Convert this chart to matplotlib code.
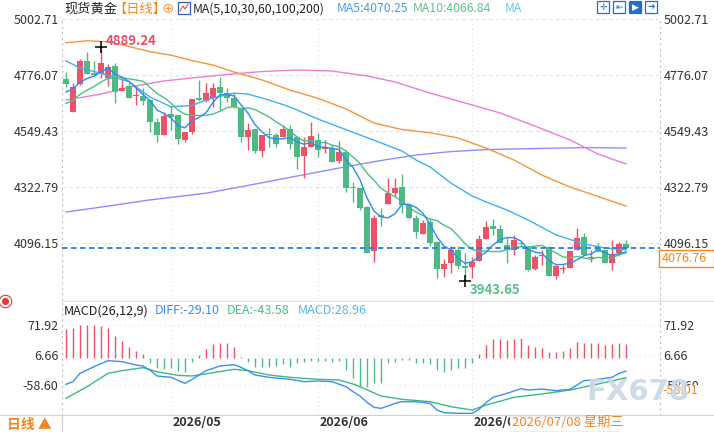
import matplotlib
matplotlib.use("Agg")
import matplotlib.pyplot as plt
import numpy as np
import pandas as pd
from matplotlib.patches import Rectangle
from matplotlib.lines import Line2D

plt.rcParams['font.family'] = ['Noto Sans CJK SC', 'DejaVu Sans']

# daily candles
opens = [4759.6, 4627.7, 4738.2, 4832.2, 4783.8, 4781.0, 4764.8, 4813.2, 4712.4, 4731.4,
         4691.0, 4691.0, 4674.9, 4586.2, 4535.0, 4618.4, 4613.2, 4513.6, 4547.1, 4683.0,
         4669.7, 4681.8, 4728.5, 4701.9, 4681.8, 4643.8, 4526.9, 4557.9, 4470.4, 4537.8,
         4533.7, 4526.9, 4557.9, 4526.9, 4450.3, 4486.6, 4513.6, 4476.1, 4480.1, 4430.1,
         4466.4, 4322.8, 4318.8, 4244.6, 4067.1, 4211.1, 4255.5, 4301.0, 4325.2, 4251.4,
         4197.8, 4134.5, 4184.1, 4103.4, 3994.5, 4018.7, 4069.9, 4005.4, 4002.6, 4026.8,
         4114.3, 4166.7, 4153.4, 4090.1, 4069.9, 4100.0, 4083.3, 3993.3, 4045.8, 4083.3,
         3965.1, 3993.3, 3997.4, 4069.9, 4121.2, 4036.5, 4083.3, 4069.9, 4018.7, 4056.6,
         4094.1]
highs = [4787.8, 4743.5, 4840.3, 4867.3, 4833.4, 4889.24, 4820.1, 4822.9, 4762.4, 4744.7,
         4728.5, 4723.3, 4676.0, 4602.3, 4625.3, 4651.9, 4615.0, 4546.0, 4680.0, 4755.6,
         4744.7, 4742.3, 4766.4, 4722.1, 4701.9, 4645.0, 4580.9, 4559.0, 4535.0, 4560.8,
         4540.6, 4574.1, 4574.1, 4528.0, 4526.9, 4587.4, 4540.6, 4513.6, 4493.4, 4509.5,
         4473.2, 4343.0, 4320.0, 4246.0, 4211.1, 4238.1, 4359.1, 4359.1, 4376.5, 4253.0,
         4211.1, 4190.9, 4197.8, 4105.0, 4032.4, 4086.1, 4086.1, 4056.6, 4042.9, 4130.4,
         4186.9, 4193.8, 4170.8, 4123.6, 4130.4, 4108.0, 4085.0, 4049.8, 4069.9, 4085.0,
         4007.0, 4009.5, 4067.0, 4157.5, 4137.3, 4069.9, 4097.0, 4071.0, 4110.3, 4103.4,
         4110.3]
lows = [4728.5, 4625.0, 4736.0, 4779.0, 4771.7, 4763.6, 4732.6, 4664.0, 4710.0, 4682.0,
        4653.5, 4654.7, 4547.1, 4504.3, 4533.0, 4553.9, 4496.2, 4506.7, 4537.8, 4673.0,
        4668.0, 4645.5, 4634.6, 4668.0, 4644.0, 4506.7, 4473.2, 4459.9, 4446.2, 4486.6,
        4486.6, 4525.0, 4477.3, 4395.4, 4361.5, 4485.0, 4443.8, 4459.9, 4424.0, 4419.6,
        4305.1, 4262.3, 4231.3, 4057.0, 4020.3, 4166.7, 4254.0, 4284.9, 4218.0, 4196.0,
        4117.1, 4133.0, 4086.1, 3955.8, 3959.8, 3978.4, 3992.1, 3943.65, 3955.8, 4025.0,
        4113.0, 4130.4, 4097.0, 4016.3, 4049.8, 4088.0, 3986.5, 3991.0, 4009.5, 3963.0,
        3953.0, 3977.2, 3996.0, 4068.0, 4048.0, 4021.6, 4061.9, 4017.0, 3989.3, 4045.8,
        4075.0]
closes = [4740.6, 4727.3, 4832.2, 4781.0, 4775.7, 4824.1, 4806.8, 4708.4, 4724.5, 4684.2,
          4696.3, 4672.1, 4587.4, 4535.0, 4610.4, 4607.6, 4516.4, 4544.6, 4678.9, 4674.9,
          4704.3, 4723.3, 4701.9, 4681.8, 4645.5, 4526.9, 4553.9, 4470.4, 4533.7, 4533.7,
          4497.4, 4556.7, 4497.4, 4446.2, 4486.6, 4529.7, 4473.2, 4484.1, 4426.1, 4466.4,
          4318.8, 4318.8, 4238.1, 4059.1, 4197.8, 4204.3, 4298.6, 4318.8, 4251.4, 4197.8,
          4143.8, 4177.6, 4099.4, 3992.1, 4013.5, 4069.9, 4006.6, 3998.6, 4022.8, 4114.3,
          4161.5, 4155.9, 4099.4, 4069.9, 4110.3, 4094.0, 3989.3, 4040.5, 4049.8, 3965.1,
          4005.4, 3997.4, 4065.9, 4117.1, 4049.8, 4042.9, 4067.1, 4018.7, 4053.8, 4094.1,
          4076.76]
# closes before the visible window (estimated from where MA5/MA10 start)
prior_closes = [4590, 4600, 4615, 4625, 4640, 4670, 4690, 4712, 4727]

# long moving averages, read as points (candle index, price)
ma30_idx = [0, 2, 5, 9, 12, 15, 18, 20, 21, 24, 26, 29, 32, 36, 39, 42, 45, 48, 50, 52,
            55, 58, 60, 63, 66, 70, 74, 77, 80]
ma30_val = [4833, 4804, 4783, 4749, 4687, 4648, 4653, 4675, 4683, 4703, 4699, 4675, 4647,
            4598, 4566, 4534, 4502, 4469, 4433, 4405, 4340, 4288, 4264, 4231, 4191, 4131,
            4094, 4078, 4070]
ma60_idx = [0, 3, 6, 9, 12, 15, 18, 21, 24, 28, 32, 36, 40, 44, 48, 52, 56, 60, 64, 68,
            72, 76, 80]
ma60_val = [4906, 4914, 4910, 4891, 4870, 4856, 4834, 4816, 4788, 4756, 4715, 4682, 4639,
            4582, 4556, 4543, 4522, 4481, 4433, 4372, 4324, 4286, 4247]
ma100_idx = [0, 5, 9, 14, 18, 23, 28, 33, 38, 43, 47, 52, 57, 62, 67, 72, 76, 80]
ma100_val = [4675, 4699, 4727, 4752, 4764, 4778, 4790, 4796, 4792, 4772, 4748, 4703, 4663,
             4623, 4570, 4514, 4457, 4417]
ma200_idx = [0, 6, 12, 20, 25, 30, 35, 40, 45, 50, 55, 60, 65, 70, 75, 80]
ma200_val = [4223, 4247, 4272, 4299, 4325, 4352, 4379, 4406, 4431, 4453, 4467, 4475, 4478,
             4481, 4483, 4481]

# MACD panel
macd_hist = [61.7, 65.3, 71.92, 71.9, 70.4, 68.2, 65.3, 47.2, 36.3, 24.0, 14.6, 8.1,
             -10.8, -23.1, -23.9, -23.1, -28.2, -30.4, -8.6,
             5.9, 18.2, 29.1, 32.7, 31.3, 24.0, 2.3,
             -8.6, -20.9, -20.9, -20.9, -18.0, -13.7, -19.5, -10.8, -8.6, -6.4, -6.4, -6.4, -8.6, -6.4,
             -26.8, -45.0, -63.0, -63.0, -54.3, -54.3,
             -10.8, -8.6, -5.0, -5.0, -10.8, -12.3, -13.7, -26.8, -30.4, -26.8, -23.1, -21.7, -12.3,
             8.1, 27.6, 40.7, 39.9, 38.5, 39.9, 42.8, 27.6, 24.0, 21.8, 13.1, 13.1, 14.6, 21.1,
             34.2, 32.7, 32.7, 32.7, 27.6, 29.8, 32.7, 28.96]
diff_idx = [0, 1, 2, 3, 4, 6, 8, 10, 11, 12, 13, 15, 17, 18, 20, 22, 24, 25, 26, 27, 29, 32,
            34, 36, 38, 40, 41, 42, 43, 44, 45, 46, 47, 48, 50, 52, 53, 54, 56, 58, 59, 60,
            61, 63, 65, 66, 68, 70, 72, 73, 74, 76, 78, 79, 80]
diff_val = [-57.9, -52.1, -34.0, -26.8, -19.5, -6.4, -8.6, -15.9, -18.1, -26.8, -39.8, -42.7,
            -55.8, -47.1, -28.2, -18.1, -15.1, -21.0, -28.2, -37.6, -42.7, -47.0, -52.1,
            -50.7, -52.1, -63.0, -73.9, -83.3, -97.0, -108.0, -110.1, -105.0, -99.3, -95.6,
            -95.6, -99.3, -113.8, -119.6, -121.0, -121.0, -112.3, -97.8, -86.2, -77.5,
            -67.4, -70.3, -68.1, -71.7, -68.8, -59.4, -50.0, -47.0, -42.7, -34.0, -29.10]
dea_idx = [0, 3, 6, 8, 11, 13, 16, 18, 21, 24, 26, 29, 32, 36, 39, 41, 42, 45, 48, 52, 55,
           58, 60, 64, 68, 72, 76, 80]
dea_val = [-88.4, -63.0, -34.0, -28.2, -21.7, -30.4, -38.4, -39.8, -32.6, -25.3, -28.2,
           -37.6, -42.7, -47.0, -48.5, -57.2, -63.0, -83.3, -90.5, -95.6, -106.5, -113.8,
           -102.9, -86.2, -78.9, -70.3, -57.2, -43.58]

price_ticks = [5002.71, 4776.07, 4549.43, 4322.79, 4096.15]
macd_ticks = [71.92, 6.66, -58.60]
month_idx = [15, 36, 58]
month_labels = ['2026/05', '2026/06', '2026/07']

RED = '#ee5266'
GREEN = '#4fb986'
ORANGE = '#f5861f'
C_MA5 = '#2d8cf0'
C_MA10 = '#4cbf85'
C_MA30 = '#3fb0ee'
C_MA60 = '#f7943c'
C_MA100 = '#e77fd9'
C_MA200 = '#8f8cff'

W, H = 714, 432
fig = plt.figure(figsize=(W / 100, H / 100), dpi=100)


def fx(px):
    return px / W


def fy(py):
    return 1 - py / H


ax = fig.add_axes([fx(62), fy(300), fx(660) - fx(62), fy(18.8) - fy(300)])
am = fig.add_axes([fx(62), fy(415), fx(660) - fx(62), fy(301) - fy(415)])

for a in (ax, am):
    a.set_xlim(-4 / 7, 594 / 7)
    a.spines['top'].set_visible(False)
    a.spines['bottom'].set_visible(False)
    for s in ('left', 'right'):
        a.spines[s].set_linestyle((0, (1, 4)))
        a.spines[s].set_color('#c0c0c0')
        a.spines[s].set_linewidth(0.8)
    a.set_xticks([])
    a.tick_params(axis='y', length=0, labelsize=9, labelcolor='#333333',
                  labelright=True, pad=2.5)
    for m in month_idx:
        a.axvline(m, color='#dcdcdc', lw=0.8, ls=(0, (1, 3)), zorder=0)

# ---- price panel ----
ax.set_ylim(3868.1, 5002.71)
ax.set_yticks(price_ticks)
ax.set_yticklabels(['%.2f' % t for t in price_ticks])
for t in price_ticks:
    ax.axhline(t, color='#e3e3e3', lw=0.8, ls=(0, (3, 3)), zorder=0)

x = np.arange(len(closes))
o = np.array(opens)
c = np.array(closes)
up = c >= o
cols = np.where(up, RED, GREEN)
ax.vlines(x, lows, highs, colors=cols, lw=1.0, zorder=2)
body = np.maximum(np.abs(c - o), 3.0)
ax.bar(x, body, bottom=np.minimum(o, c), width=0.72, color=cols, lw=0, zorder=3)

allc = pd.Series(prior_closes + closes)
n0 = len(prior_closes)
ma5 = allc.rolling(5).mean().values[n0:]
ma10 = allc.rolling(10).mean().values[n0:]

ax.plot(ma200_idx, ma200_val, color=C_MA200, lw=1.0, zorder=1)
ax.plot(ma100_idx, ma100_val, color=C_MA100, lw=1.0, zorder=1)
ax.plot(ma60_idx, ma60_val, color=C_MA60, lw=1.0, zorder=1)
ax.plot(ma30_idx, ma30_val, color=C_MA30, lw=1.0, zorder=4)
ax.plot(x, ma10, color=C_MA10, lw=1.0, zorder=4)
ax.plot(x, ma5, color=C_MA5, lw=1.0, zorder=4)

# current price line
ax.axhline(closes[-1], color='#1f7fe6', lw=1.3, ls=(0, (3, 2)), zorder=5)

# high / low marks
hi = int(np.argmax(highs))
lo = int(np.argmin(lows))
ax.plot(hi, highs[hi], marker='+', color='black', ms=8, mew=1.1, zorder=6)
ax.annotate('%.2f' % highs[hi], (hi, highs[hi]), xytext=(5, 6), textcoords='offset pixels',
            color='#e8506a', fontsize=9.5, fontweight='bold', va='center', ha='left')
ax.plot(lo, lows[lo], marker='+', color='black', ms=8, mew=1.1, zorder=6)
ax.annotate('%.2f' % lows[lo], (lo, lows[lo]), xytext=(5, -9), textcoords='offset pixels',
            color='#5cbf8f', fontsize=9.5, fontweight='bold', va='center', ha='left')

# ---- MACD panel ----
am.set_ylim(-124.6, 123.3)
am.set_yticks(macd_ticks)
am.set_yticklabels(['%.2f' % t for t in macd_ticks])
for t in macd_ticks:
    am.axhline(t, color='#e3e3e3', lw=0.8, ls=(0, (1, 3)), zorder=0)
hist = np.array(macd_hist)
am.vlines(x, 0, hist, colors=np.where(hist >= 0, RED, GREEN), lw=1.0, zorder=2)
am.plot(dea_idx, dea_val, color='#3dba7e', lw=1.0, zorder=3)
am.plot(diff_idx, diff_val, color='#3d8ef2', lw=1.0, zorder=3)

# ---- frame lines ----
fig.add_artist(Line2D([fx(62), fx(714)], [fy(300.5), fy(300.5)], color='#e4e4e4', lw=0.8))
fig.add_artist(Line2D([0, 1], [fy(415), fy(415)], color='#d0d0d0', lw=0.8))
fig.add_artist(Line2D([fx(62), fx(62)], [fy(415), 0], color='#d0d0d0', lw=0.8))

# ---- title row ----
ty = fy(9)
TS = 8.8
fig.text(fx(64), ty, '现货黄金', fontsize=9.5, color='#222222', va='center')
fig.text(fx(113), ty, '【日线】', fontsize=9.5, color=ORANGE, va='center')
fig.text(fx(161), ty, '⊕', fontsize=9, color=ORANGE, va='center')
fig.add_artist(Rectangle((fx(178), fy(14)), fx(12), 12 / H, fill=False,
                         edgecolor='#2a63b8', lw=0.9))
fig.add_artist(Line2D([fx(180), fx(183), fx(185), fx(188)], [fy(11), fy(6), fy(9), fy(4)],
                      color='#e84a5f', lw=0.8))
fig.text(fx(193), ty, 'MA(5,10,30,60,100,200)', fontsize=TS, color='#222222', va='center')
fig.text(fx(337), ty, 'MA5:4070.25', fontsize=TS, color='#4a9af5', va='center')
fig.text(fx(413), ty, 'MA10:4066.84', fontsize=TS, color='#5cc48e', va='center')
fig.text(fx(505), ty, 'MA', fontsize=TS, color='#6cc3f0', va='center')

icons = ['✛', '⇤', '▶', '➜']
for k, g in enumerate(icons):
    x0 = 597 + k * 16
    filled = (k == 2)
    fig.add_artist(Rectangle((fx(x0), fy(13)), fx(12), 12 / H,
                             facecolor='#1f6fc8' if filled else 'white',
                             edgecolor='#1f6fc8', lw=0.9))
    fig.text(fx(x0 + 6), fy(7), g, fontsize=6.5, ha='center', va='center',
             color='white' if filled else '#1f6fc8', family=['DejaVu Sans'])

# ---- MACD title ----
my = fy(311)
MS = 9
fig.text(fx(64), my, 'MACD(26,12,9)', fontsize=MS, color='#222222', va='center')
fig.text(fx(155), my, 'DIFF:-29.10', fontsize=MS, color='#3d8ef2', va='center')
fig.text(fx(227), my, 'DEA:-43.58', fontsize=MS, color='#4cbf85', va='center')
fig.text(fx(298), my, 'MACD:28.96', fontsize=MS, color='#55b8ee', va='center')

# red settings icon at the left of the MACD panel
fig.add_artist(Line2D([fx(5)], [fy(301)], marker='o', ms=9, mfc='none', mec='#e53935',
                      mew=0.8, ls='none'))
fig.add_artist(Line2D([fx(5)], [fy(301)], marker='o', ms=4, color='#e53935', ls='none'))

# ---- date axis ----
dy = fy(423)
for m, lab in zip(month_idx, month_labels):
    xp = 66 + 7 * m + 2
    fig.text(fx(xp), dy, lab, fontsize=9, fontweight='bold', color='#333333', va='center')
fig.text(fx(7), fy(425), '日线 ▲', fontsize=10, fontweight='bold', color=ORANGE, va='center')

fig.add_artist(Rectangle((fx(510), fy(431)), fx(108), 15 / H, facecolor='white',
                         edgecolor='#ececec', lw=0.6, zorder=5))
fig.text(fx(512), fy(423), '2026/07/08 星期三', fontsize=9.5, color=ORANGE,
         va='center', zorder=6)

# ---- right value boxes ----
fig.add_artist(Rectangle((fx(659), fy(267)), fx(55), 17 / H, facecolor='white',
                         edgecolor=ORANGE, lw=1.0, zorder=5))
fig.text(fx(662), fy(258.5), '%.2f' % closes[-1], fontsize=9, color=ORANGE,
         va='center', zorder=6)
fig.add_artist(Rectangle((fx(661), fy(398)), fx(53), 13 / H, facecolor='white',
                         edgecolor='none', zorder=5))
fig.text(fx(662), fy(391), '-58.01', fontsize=9, color=ORANGE, va='center', zorder=6)

# watermark
fig.text(fx(638), fy(392), 'FX678', fontsize=21, fontweight='bold', color='#cbd7e7',
         ha='center', va='center', family=['DejaVu Sans'], alpha=0.9, zorder=7)

fig.savefig('out.png', dpi=100)
